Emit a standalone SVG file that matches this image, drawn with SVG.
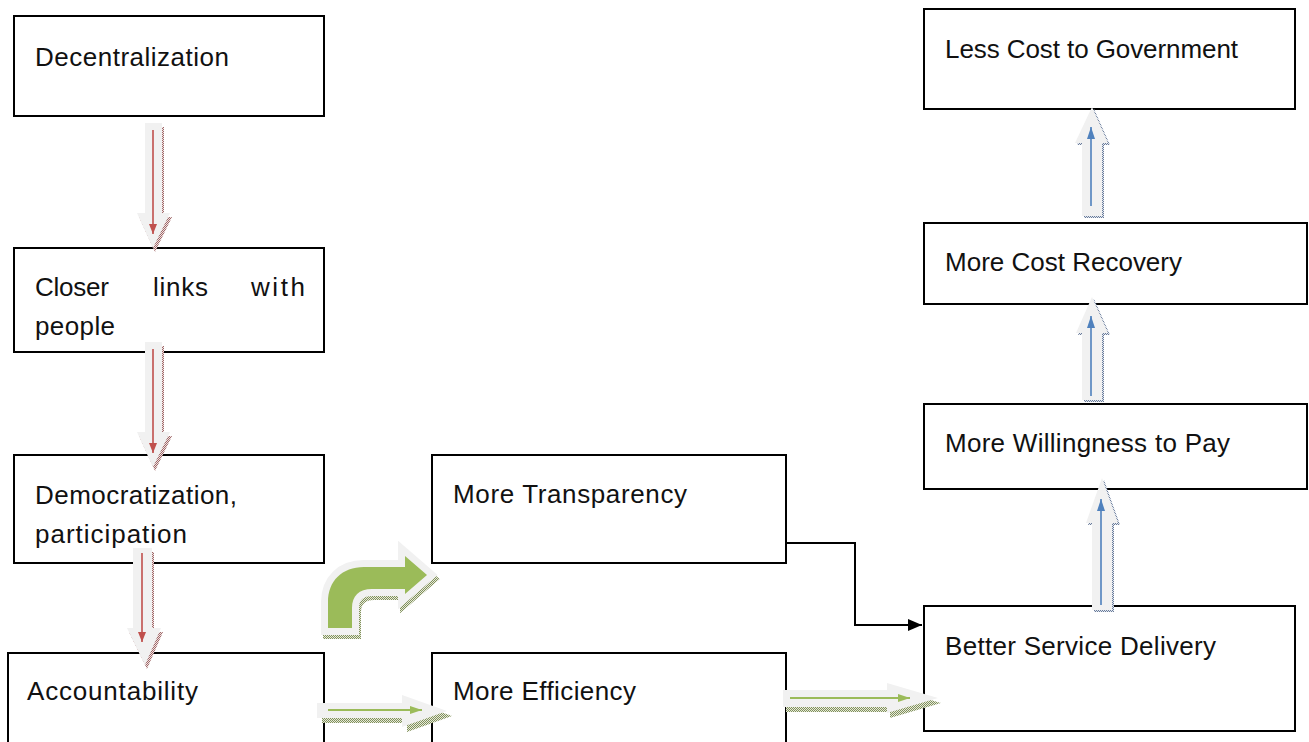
<svg xmlns="http://www.w3.org/2000/svg" width="1309" height="742" viewBox="0 0 1309 742">
  <style>
    .box { fill: #ffffff; stroke: #000000; stroke-width: 2; }
    .lbl { font-family: "Liberation Sans", Arial, sans-serif; font-size: 26px; fill: #111111; }
    .block { fill: #f1f1f1; }
    .shR { fill: url(#dotR); }
    .shG { fill: url(#dotG); }
    .shB { fill: url(#dotB); }
    .lnR { stroke: #c0504d; stroke-width: 1.6; fill: none; }
    .lnG { stroke: #9bbb59; stroke-width: 2; fill: none; }
    .lnB { stroke: #4f81bd; stroke-width: 1.6; fill: none; }
    .conn { stroke: #000000; stroke-width: 2; fill: none; }
  </style>
  <defs>
    <pattern id="dotR" width="2" height="2" patternUnits="userSpaceOnUse">
      <rect width="2" height="2" fill="#eee2e2"/>
      <rect width="1" height="1" fill="#a06868"/>
      <rect x="1" y="1" width="1" height="1" fill="#a06868"/>
    </pattern>
    <pattern id="dotG" width="2" height="2" patternUnits="userSpaceOnUse">
      <rect width="2" height="2" fill="#e6ebda"/>
      <rect width="1" height="1" fill="#818f5c"/>
      <rect x="1" y="1" width="1" height="1" fill="#818f5c"/>
    </pattern>
    <pattern id="dotB" width="2" height="2" patternUnits="userSpaceOnUse">
      <rect width="2" height="2" fill="#e2e7ef"/>
      <rect width="1" height="1" fill="#6a7c9a"/>
      <rect x="1" y="1" width="1" height="1" fill="#6a7c9a"/>
    </pattern>
    <marker id="hR" markerUnits="userSpaceOnUse" markerWidth="10" markerHeight="8" refX="10" refY="4" orient="auto">
      <path d="M0,0 L10,4 L0,8 Z" fill="#c0504d"/>
    </marker>
    <marker id="hG" markerUnits="userSpaceOnUse" markerWidth="12" markerHeight="8" refX="12" refY="4" orient="auto">
      <path d="M0,0 L12,4 L0,8 Z" fill="#9bbb59"/>
    </marker>
    <marker id="hB" markerUnits="userSpaceOnUse" markerWidth="12" markerHeight="8" refX="12" refY="4" orient="auto">
      <path d="M0,0 L12,4 L0,8 Z" fill="#4f81bd"/>
    </marker>
    <marker id="hK" markerUnits="userSpaceOnUse" markerWidth="14" markerHeight="12" refX="14" refY="6" orient="auto">
      <path d="M0,0 L14,6 L0,12 Z" fill="#000000"/>
    </marker>
    <!-- block arrow outlines -->
    <path id="downA" d="M145,123 L162,123 L162,213 L170,213 L153,248 L137,213 L145,213 Z"/>
    <path id="bent" d="M328,628 L328,602 C328,581 342,567 364,567 L405,567 L405,556 L427,575 L405,594 L405,589 L372,589 C359,589 352,596 352,608 L352,628 Z"/>
  </defs>

  <!-- nodes -->
  <g id="node-decentralization">
    <rect class="box" x="14" y="16" width="310" height="100"/>
    <text class="lbl" x="35" y="66" textLength="194">Decentralization</text>
  </g>
  <g id="node-closer-links">
    <rect class="box" x="14" y="248" width="310" height="104"/>
    <text class="lbl" x="35" y="296" textLength="74">Closer</text>
    <text class="lbl" x="153" y="296" textLength="55">links</text>
    <text class="lbl" x="251" y="296" textLength="54">with</text>
    <text class="lbl" x="35" y="335" textLength="80">people</text>
  </g>
  <g id="node-democratization">
    <rect class="box" x="14" y="455" width="310" height="108"/>
    <text class="lbl" x="35" y="504" textLength="202">Democratization,</text>
    <text class="lbl" x="35" y="543" textLength="152">participation</text>
  </g>
  <g id="node-accountability">
    <rect class="box" x="8" y="653" width="316" height="100"/>
    <text class="lbl" x="27" y="700" textLength="171">Accountability</text>
  </g>
  <g id="node-transparency">
    <rect class="box" x="432" y="455" width="354" height="108"/>
    <text class="lbl" x="453" y="503" textLength="234">More Transparency</text>
  </g>
  <g id="node-efficiency">
    <rect class="box" x="432" y="653" width="354" height="100"/>
    <text class="lbl" x="453" y="700" textLength="183">More Efficiency</text>
  </g>
  <g id="node-service-delivery">
    <rect class="box" x="924" y="606" width="371" height="125"/>
    <text class="lbl" x="945" y="655" textLength="271">Better Service Delivery</text>
  </g>
  <g id="node-willingness">
    <rect class="box" x="924" y="404" width="383" height="85"/>
    <text class="lbl" x="945" y="452" textLength="285">More Willingness to Pay</text>
  </g>
  <g id="node-cost-recovery">
    <rect class="box" x="924" y="223" width="383" height="81"/>
    <text class="lbl" x="945" y="271" textLength="237">More Cost Recovery</text>
  </g>
  <g id="node-less-cost">
    <rect class="box" x="924" y="9" width="371" height="100"/>
    <text class="lbl" x="945" y="58" textLength="293">Less Cost to Government</text>
  </g>

  <!-- connectors -->
  <g id="connectors">
    <!-- Decentralization -> Closer links -->
    <g>
      <use href="#downA" class="shR" transform="translate(2,4)"/>
      <use href="#downA" class="block"/>
      <line class="lnR" x1="153" y1="130" x2="153" y2="234" marker-end="url(#hR)"/>
    </g>
    <!-- Closer links -> Democratization -->
    <g transform="translate(0,219)">
      <use href="#downA" class="shR" transform="translate(2,4)"/>
      <use href="#downA" class="block"/>
      <line class="lnR" x1="153" y1="130" x2="153" y2="234" marker-end="url(#hR)"/>
    </g>
    <!-- Democratization -> Accountability -->
    <g>
      <path class="shR" transform="translate(2,4)" d="M133,548 L152,548 L152,628 L161,628 L145,665 L127,628 L133,628 Z"/>
      <path class="block" d="M133,548 L152,548 L152,628 L161,628 L145,665 L127,628 L133,628 Z"/>
      <line class="lnR" x1="142" y1="553" x2="142" y2="642" marker-end="url(#hR)"/>
    </g>

    <!-- Accountability -> More Transparency (bent arrow) -->
    <g>
      <use href="#bent" fill="url(#dotG)" stroke="url(#dotG)" stroke-width="14" stroke-linejoin="miter" transform="translate(2,4)"/>
      <use href="#bent" fill="#f1f1f1" stroke="#f1f1f1" stroke-width="14" stroke-linejoin="miter"/>
      <use href="#bent" fill="#9bbb59"/>
    </g>

    <!-- Accountability -> More Efficiency -->
    <g>
      <path class="shG" transform="translate(5,5)" d="M317,703 L402,703 L402,695 L447,711 L402,727 L402,718 L317,718 Z"/>
      <path class="block" d="M317,703 L402,703 L402,695 L447,711 L402,727 L402,718 L317,718 Z"/>
      <line class="lnG" x1="328" y1="710" x2="422" y2="710" marker-end="url(#hG)"/>
    </g>
    <!-- More Efficiency -> Better Service Delivery -->
    <g>
      <path class="shG" transform="translate(3,5)" d="M783,690 L887,690 L887,683 L938,698 L887,713 L887,707 L783,707 Z"/>
      <path class="block" d="M783,690 L887,690 L887,683 L938,698 L887,713 L887,707 L783,707 Z"/>
      <line class="lnG" x1="790" y1="698" x2="910" y2="698" marker-end="url(#hG)"/>
    </g>

    <!-- More Transparency -> Better Service Delivery -->
    <polyline class="conn" points="786,543 855,543 855,625 922,625" marker-end="url(#hK)"/>

    <!-- Better Service Delivery -> More Willingness to Pay -->
    <g>
      <path class="shB" transform="translate(2,2)" d="M1092,610 L1112,610 L1112,523 L1118,523 L1102,478 L1086,523 L1092,523 Z"/>
      <path class="block" d="M1092,610 L1112,610 L1112,523 L1118,523 L1102,478 L1086,523 L1092,523 Z"/>
      <line class="lnB" x1="1101" y1="605" x2="1101" y2="499" marker-end="url(#hB)"/>
    </g>
    <!-- More Willingness to Pay -> More Cost Recovery -->
    <g>
      <path class="shB" transform="translate(2,2)" d="M1082,400 L1102,400 L1102,333 L1108,333 L1092,297 L1076,333 L1082,333 Z"/>
      <path class="block" d="M1082,400 L1102,400 L1102,333 L1108,333 L1092,297 L1076,333 L1082,333 Z"/>
      <line class="lnB" x1="1091" y1="396" x2="1091" y2="316" marker-end="url(#hB)"/>
    </g>
    <!-- More Cost Recovery -> Less Cost to Government -->
    <g>
      <path class="shB" transform="translate(2,2)" d="M1082,216 L1102,216 L1102,143 L1108,143 L1092,107 L1075,143 L1082,143 Z"/>
      <path class="block" d="M1082,216 L1102,216 L1102,143 L1108,143 L1092,107 L1075,143 L1082,143 Z"/>
      <line class="lnB" x1="1091" y1="206" x2="1091" y2="127" marker-end="url(#hB)"/>
    </g>
  </g>
</svg>
